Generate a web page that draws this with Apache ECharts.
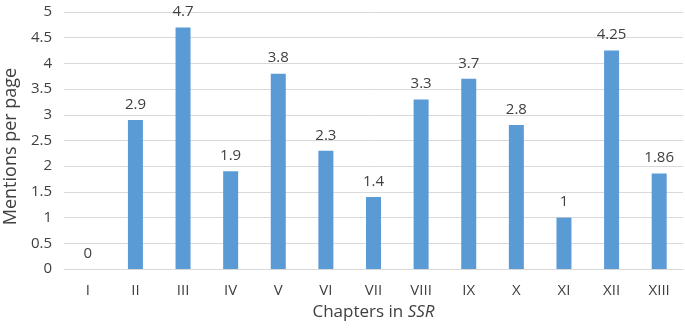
<!DOCTYPE html>
<html>
<head>
<meta charset="utf-8">
<script src="https://cdn.jsdelivr.net/npm/echarts@6/dist/echarts.min.js"></script>
<style>
html,body{margin:0;padding:0;background:#fff;}
#main{width:685px;height:331px;}
</style>
</head>
<body>
<div id="main"></div>
<script>
var chapters = ['I','II','III','IV','V','VI','VII','VIII','IX','X','XI','XII','XIII'];
var mentions = [0, 2.9, 4.7, 1.9, 3.8, 2.3, 1.4, 3.3, 3.7, 2.8, 1, 4.25, 1.86];
var yTicks = [0, 0.5, 1, 1.5, 2, 2.5, 3, 3.5, 4, 4.5, 5];

var fontName = '"Open Sans", "Liberation Sans", sans-serif';
var myChart = echarts.init(document.getElementById('main'));
var option = {
	backgroundColor: '#fff',
	animation: false,
	grid: {
		left: 64,
		right: 2,
		top: 12,
		bottom: 62,
		outerBoundsMode: 'none'
	},
	xAxis: {
		type: 'category',
		data: chapters,
		axisLine: { show: true, lineStyle: { color: '#d9d9d9', width: 1 } },
		axisTick: { show: false },
		axisLabel: { color: '#404040', fontSize: 15, fontFamily: fontName, margin: 14 },
		name: 'Chapters in {i|SSR}',
		nameLocation: 'middle',
		nameGap: 35,
		nameTextStyle: {
			color: '#404040', fontSize: 17, fontFamily: fontName,
			rich: { i: { fontStyle: 'italic', fontSize: 17, fontFamily: fontName, color: '#404040' } }
		}
	},
	yAxis: {
		type: 'value',
		min: yTicks[0],
		max: yTicks[yTicks.length - 1],
		interval: 0.5,
		axisLine: { show: false },
		axisTick: { show: false },
		splitLine: { lineStyle: { color: '#d9d9d9', width: 1 } },
		axisLabel: { color: '#404040', fontSize: 15, fontFamily: fontName, margin: 12 },
		name: 'Mentions per page',
		nameLocation: 'middle',
		nameGap: 40,
		nameTextStyle: { color: '#404040', fontSize: 18, fontFamily: fontName, padding: [0, 12, 0, 0] }
	},
	series: [{
		type: 'bar',
		data: mentions,
		barWidth: 15,
		itemStyle: { color: '#5b9bd5' },
		label: {
			show: true,
			position: 'top',
			distance: 8,
			color: '#404040',
			fontSize: 15,
			fontFamily: fontName
		}
	}]
};
myChart.setOption(option);
</script>
</body>
</html>
